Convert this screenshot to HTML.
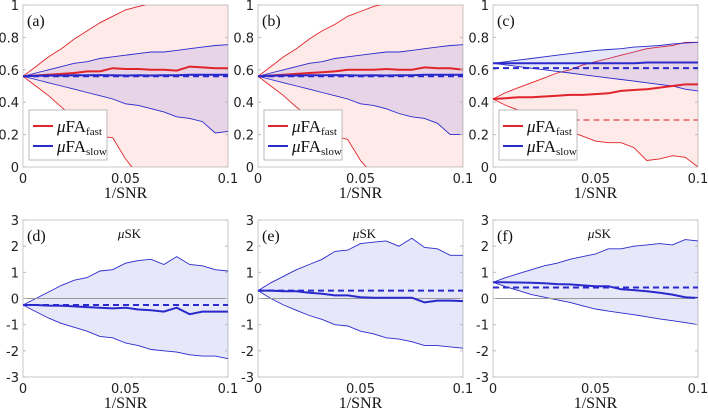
<!DOCTYPE html>
<html><head><meta charset="utf-8"><style>
body{margin:0;background:#fff;width:708px;height:413px;overflow:hidden}
svg text{font-family:"DejaVu Sans","Liberation Sans",sans-serif}
.ser{font-family:"Liberation Serif",serif}
</style></head><body>
<svg id="fig" width="708" height="413" xmlns="http://www.w3.org/2000/svg"></svg>
<script>
const xVals=[0,0.00625,0.0125,0.01875,0.025,0.03125,0.0375,0.04375,0.05,0.05625,0.0625,0.06875,0.075,0.08125,0.0875,0.09375,0.1];
const xTicks=[0,0.05,0.1];
const faTicks=[0,0.2,0.4,0.6,0.8,1];
const skTicks=[-3,-2,-1,0,1,2,3];
// panel a
const aFastUp=[0.56,0.62,0.68,0.73,0.79,0.84,0.89,0.93,0.97,0.99,1.01,1.04,1.07,1.1,1.13,1.16,1.2];
const aFastLo=[0.56,0.5,0.44,0.37,0.3,0.23,0.19,0.18,0.05,-0.05,-0.1,-0.15,-0.2,-0.25,-0.3,-0.35,-0.4];
const aFastMean=[0.56,0.565,0.57,0.575,0.58,0.59,0.59,0.61,0.605,0.605,0.6,0.6,0.595,0.62,0.615,0.61,0.61];
const aSlowUp=[0.56,0.58,0.6,0.62,0.64,0.65,0.67,0.68,0.69,0.7,0.71,0.71,0.72,0.73,0.74,0.75,0.755];
const aSlowLo=[0.56,0.54,0.52,0.5,0.48,0.46,0.44,0.42,0.39,0.38,0.36,0.34,0.31,0.3,0.28,0.21,0.22];
const aSlowMean=[0.56,0.563,0.565,0.565,0.566,0.566,0.567,0.566,0.565,0.566,0.565,0.566,0.566,0.57,0.57,0.57,0.57];
const aDash=[0.56,0.56];
// panel b
const bFastUp=[0.56,0.62,0.68,0.73,0.79,0.84,0.88,0.93,0.96,0.99,1.01,1.04,1.07,1.1,1.13,1.16,1.2];
const bFastLo=[0.56,0.5,0.44,0.37,0.31,0.24,0.19,0.17,0.04,-0.05,-0.1,-0.15,-0.2,-0.25,-0.3,-0.35,-0.4];
const bFastMean=[0.56,0.565,0.57,0.575,0.58,0.585,0.59,0.6,0.6,0.6,0.605,0.6,0.6,0.615,0.61,0.61,0.6];
const bSlowUp=[0.56,0.58,0.6,0.62,0.64,0.65,0.67,0.68,0.69,0.7,0.71,0.71,0.72,0.73,0.74,0.75,0.755];
const bSlowLo=[0.56,0.54,0.52,0.5,0.48,0.46,0.44,0.42,0.39,0.38,0.36,0.33,0.31,0.3,0.27,0.2,0.2];
const bSlowMean=[0.56,0.563,0.565,0.565,0.566,0.566,0.567,0.566,0.565,0.566,0.565,0.566,0.566,0.57,0.57,0.57,0.57];
const bDash=[0.56,0.56];
// panel c
const cFastUp=[0.42,0.46,0.49,0.52,0.55,0.58,0.6,0.63,0.65,0.67,0.69,0.71,0.73,0.74,0.75,0.77,0.77];
const cFastLo=[0.42,0.38,0.35,0.31,0.28,0.25,0.22,0.19,0.16,0.15,0.15,0.12,0.04,0.05,0.07,0.06,0.0];
const cFastMean=[0.42,0.425,0.43,0.43,0.435,0.44,0.445,0.445,0.45,0.455,0.47,0.475,0.48,0.49,0.5,0.51,0.51];
const cSlowUp=[0.64,0.65,0.66,0.67,0.68,0.69,0.7,0.71,0.72,0.725,0.73,0.74,0.745,0.75,0.76,0.765,0.77];
const cSlowLo=[0.64,0.63,0.62,0.61,0.6,0.59,0.58,0.57,0.56,0.55,0.54,0.53,0.52,0.51,0.5,0.48,0.47];
const cSlowMean=[0.64,0.64,0.64,0.64,0.64,0.64,0.64,0.64,0.64,0.64,0.64,0.64,0.645,0.645,0.645,0.645,0.645];
const cDashSlow=[0.61,0.61];
const cDashFast=[0.29,0.29];
// panel d
const dUp=[-0.25,0,0.25,0.5,0.7,0.8,1.05,1.1,1.35,1.45,1.5,1.3,1.6,1.3,1.25,1.1,1.05];
const dLo=[-0.25,-0.5,-0.75,-0.95,-1.1,-1.25,-1.45,-1.5,-1.7,-1.8,-1.95,-2,-2.05,-2.15,-2.2,-2.2,-2.3];
const dMean=[-0.25,-0.25,-0.27,-0.28,-0.3,-0.33,-0.35,-0.38,-0.35,-0.42,-0.45,-0.5,-0.35,-0.6,-0.5,-0.5,-0.5];
const dDash=[-0.25,-0.25];
// panel e
const eUp=[0.3,0.6,0.85,1.1,1.3,1.5,1.8,1.85,2.1,2.15,2.2,2.0,2.3,1.95,1.9,1.65,1.65];
const eLo=[0.3,0,-0.25,-0.45,-0.65,-0.8,-1.0,-1.05,-1.25,-1.35,-1.5,-1.55,-1.65,-1.8,-1.8,-1.85,-1.9];
const eMean=[0.3,0.3,0.28,0.28,0.22,0.18,0.12,0.12,0.05,0.03,0.03,0.03,0.03,-0.15,-0.08,-0.08,-0.1];
const eDash=[0.3,0.3];
// panel f
const fUp=[0.62,0.8,0.95,1.1,1.25,1.35,1.5,1.6,1.7,1.9,1.9,2.0,2.05,2.1,2.05,2.25,2.2];
const fLo=[0.62,0.45,0.3,0.15,0.05,-0.05,-0.15,-0.28,-0.4,-0.48,-0.55,-0.62,-0.7,-0.78,-0.85,-0.92,-1.0];
const fMean=[0.62,0.62,0.61,0.6,0.58,0.55,0.54,0.5,0.47,0.47,0.35,0.32,0.28,0.22,0.15,0.05,0.02];
const fDash=[0.42,0.42];

const NS='http://www.w3.org/2000/svg';
const svg=document.getElementById('fig');
function mk(tag,attrs,parent){const e=document.createElementNS(NS,tag);for(const k in attrs)e.setAttribute(k,attrs[k]);(parent||svg).appendChild(e);return e;}
const RED='#e0242a',BLUE='#2a2acc';
let clipN=0;
function panel(L,T,R,B,ymin,ymax,yticks,label,isSK){
  const g=mk('g',{});
  
  
  const xs=v=>L+(v-0)/(0.1)*(R-L);
  const ys=v=>B-(v-ymin)/(ymax-ymin)*(B-T);
  const cid='clip'+(clipN++);
  const cp=mk('clipPath',{id:cid},g);mk('rect',{x:L,y:T,width:R-L,height:B-T},cp);
  const plot=mk('g',{'clip-path':'url(#'+cid+')'},g);
  
  
  mk('rect',{x:L,y:T,width:R-L,height:B-T,fill:'#fff',stroke:'#c8c8c8','stroke-width':1},g).parentNode.insertBefore(g.lastChild,plot);
  const line=a=>a.map((v,i)=>(i?'L':'M')+xs(xVals[i]).toFixed(1)+','+ys(v).toFixed(1)).join('');
  const band=(up,lo,fill,stroke,name)=>{
    const d=line(up)+lo.slice().reverse().map((v,j)=>{const i=lo.length-1-j;return 'L'+xs(xVals[i]).toFixed(1)+','+ys(v).toFixed(1);}).join('')+'Z';
    const p=mk('path',{d,fill,stroke:'none'},plot);
    
    
    const u=mk('path',{d:line(up),fill:'none',stroke,'stroke-width':0.9},plot);
    
    
    const l=mk('path',{d:line(lo),fill:'none',stroke,'stroke-width':0.9},plot);
    
    
  };
  const mean=(a,c,name)=>{const p=mk('path',{d:line(a),fill:'none',stroke:c,'stroke-width':2},plot);
    
    };
  const dash=(v,c,name,x0)=>{const p=mk('line',{x1:xs(x0||0),x2:R,y1:ys(v[0]),y2:ys(v[1]),stroke:c,'stroke-width':2,'stroke-dasharray':'6,4'},plot);
    
    };
  return {g,plot,xs,ys,band,mean,dash,L,T,R,B,ymin,ymax,yticks,label,isSK};
}
function axes(P){
  const {g,xs,ys,L,T,R,B}=P;
  if(P.isSK){const z=mk('line',{x1:L,x2:R,y1:ys(0),y2:ys(0),stroke:'#999','stroke-width':1},P.plot);
    
    }
  P.yticks.forEach(v=>{
    const t=mk('text',{x:L-4,y:ys(v)+5,'text-anchor':'end','font-size':13,fill:'#222'},g);t.textContent=String(v);
    
    
    mk('line',{x1:L,x2:L+3,y1:ys(v),y2:ys(v),stroke:'#bbb'},g);mk('line',{x1:R,x2:R-3,y1:ys(v),y2:ys(v),stroke:'#bbb'},g);
  });
  xTicks.forEach(v=>{
    const t=mk('text',{x:xs(v),y:B+16,'text-anchor':'middle','font-size':13,fill:'#222'},g);t.textContent=String(v);
    
    
  });
  const xl=mk('text',{x:(L+R)/2,y:B+31,'text-anchor':'middle','font-size':16,fill:'#111',class:'ser'},g);xl.textContent='1/SNR';
  
  
  const pl=mk('text',{x:L+4,y:T+21,'font-size':16,fill:'#111',class:'ser'},g);pl.textContent=P.label;
  
  
  if(P.isSK){const st=mk('text',{x:(L+R)/2+4,y:T+18,'text-anchor':'middle','font-size':13,fill:'#111',class:'ser'},g);
    st.innerHTML='<tspan font-style="italic">μ</tspan>SK';
    
    }
}
function legend(P){
  const {g,L,B}=P;const x=L+6,y=B-57;
  const lg=mk('g',{},g);
  
  
  mk('rect',{x,y,width:78,height:50,fill:'#fff',stroke:'#aaa','stroke-width':0.8},lg);
  [['fast',RED,y+16],['slow',BLUE,y+36]].forEach(([s,c,yy])=>{
    const e=mk('g',{},lg);
    
    
    mk('line',{x1:x+4,x2:x+24,y1:yy,y2:yy,stroke:c,'stroke-width':2},e);
    const t=mk('text',{x:x+28,y:yy+6,'font-size':17,fill:'#111',class:'ser'},e);
    t.innerHTML='<tspan font-style="italic">μ</tspan>FA<tspan font-size="11" dy="3">'+s+'</tspan>';
  });
}
function faPanel(L,lab,fu,fl,fm,su,sl,sm,dashes){
  const P=panel(L,5,L+205,167,0,1,faTicks,lab,false);
  P.band(fu,fl,'rgba(255,60,60,0.11)',RED,'fast');
  P.band(su,sl,'rgba(60,60,210,0.12)',BLUE,'slow');
  dashes.forEach(d=>P.dash(d[0],d[1],d[2],d[3]));
  P.mean(fm,RED,'fast-mean');
  P.mean(sm,BLUE,'slow-mean');
  axes(P);legend(P);
}
faPanel(23,'(a)',aFastUp,aFastLo,aFastMean,aSlowUp,aSlowLo,aSlowMean,[[aDash,BLUE,'slow-dashed']]);
faPanel(258,'(b)',bFastUp,bFastLo,bFastMean,bSlowUp,bSlowLo,bSlowMean,[[bDash,BLUE,'slow-dashed']]);
faPanel(493,'(c)',cFastUp,cFastLo,cFastMean,cSlowUp,cSlowLo,cSlowMean,[[cDashFast,'#f08080','fast-dashed',0.01],[cDashSlow,BLUE,'slow-dashed']]);
function skPanel(L,lab,u,l,m,d){
  const P=panel(L,220,L+205,377,-3,3,skTicks,lab,true);
  P.band(u,l,'rgba(60,60,210,0.12)',BLUE,'sk');
  axes(P);
  P.dash(d,BLUE,'sk-dashed');
  P.mean(m,BLUE,'sk-mean');
}
skPanel(23,'(d)',dUp,dLo,dMean,dDash);
skPanel(258,'(e)',eUp,eLo,eMean,eDash);
skPanel(493,'(f)',fUp,fLo,fMean,fDash);
</script>
</body></html>
